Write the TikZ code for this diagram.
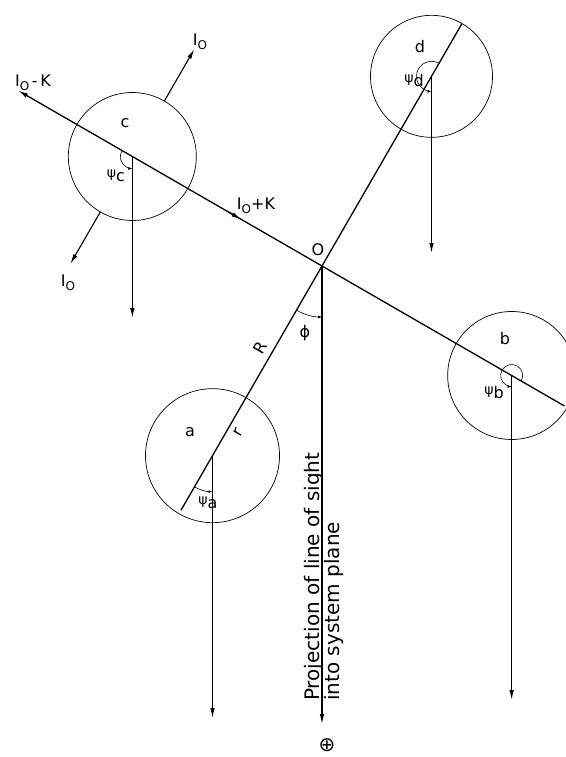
\documentclass[tikz,border=0pt]{standalone}
\usepackage{fontspec}
\setsansfont{DejaVu Sans}
\usetikzlibrary{arrows.meta,calc}
\newcommand{\sub}[1]{\raisebox{-0.4ex}{\fontsize{12}{12}\selectfont #1}}
\newcommand{\psilab}[1]{{\fontsize{14}{14}\selectfont ψ}\raisebox{-0.5ex}{#1}}
\begin{document}
\begin{tikzpicture}[x=1pt,y=1pt,
  mainline/.style={line width=1.3pt},
  circ/.style={line width=0.7pt},
  vec/.style={line width=1.1pt,-{Latex[length=10pt,width=4.5pt]}},
  anglearc/.style={line width=0.6pt,-{Latex[length=4pt,width=3pt]}},
  lbl/.style={font=\sffamily\fontsize{16}{18}\selectfont, inner sep=0pt},
  big/.style={font=\sffamily\fontsize{20}{22}\selectfont, inner sep=0pt}
]
\useasboundingbox (0,0) rectangle (565,-757);
\coordinate (O) at (322,-266);
\coordinate (c) at ($(O)+(150:219)$);
\coordinate (d) at ($(O)+(60:219)$);
\coordinate (b) at ($(O)+(-30:219)$);
\coordinate (a) at ($(O)+(240:219)$);
% circles
\draw[circ] (c) circle (64);
\draw[circ] (d) circle (61);
\draw[circ] (b) circle (64);
\draw[circ] (a) circle (67);
% main lines
\coordinate (lineE) at ($(O)+(-30:280)$);
\coordinate (lineW) at ($(O)+(150:351)$);
\draw[mainline,-{Latex[length=10pt,width=4.5pt]}] (lineE) -- (lineW);
\coordinate (kA) at ($(O)+(150:108)$);
\coordinate (kB) at ($(O)+(150:93)$);
\draw[mainline,-{Latex[length=10pt,width=4.5pt]}] (kA) -- (kB);
\coordinate (Rlo) at ($(O)+(240:282)$);
\coordinate (Rhi) at ($(O)+(60:280)$);
\draw[mainline] (Rlo) -- (Rhi);
% I0 arrows
\coordinate (i1s) at ($(c)+(60:64)$);
\coordinate (i1e) at ($(c)+(60:124)$);
\coordinate (i2s) at ($(c)+(240:64)$);
\coordinate (i2e) at ($(c)+(240:124)$);
\draw[vec] (i1s) -- (i1e);
\draw[vec] (i2s) -- (i2e);
% vertical arrows
\coordinate (cT) at (133,-318);
\coordinate (dT) at (433,-253);
\coordinate (OT) at (322,-724);
\coordinate (aT) at (213,-718);
\coordinate (bT) at (512,-700);
\draw[vec] (c) -- (c |- cT);
\draw[vec] (d) -- (d |- dT);
\draw[vec] (O) -- (O |- OT);
\draw[vec] (a) -- (a |- aT);
\draw[vec] (b) -- (b |- bT);
% angle arcs
\draw[anglearc] ($(c)+(150:12)$) arc[start angle=150,end angle=270,radius=12];
\draw[anglearc] ($(d)+(60:15)$) arc[start angle=60,end angle=270,radius=15];
\draw[anglearc] ($(b)+(-30:11)$) arc[start angle=-30,end angle=270,radius=11];
\draw[anglearc] ($(a)+(240:36)$) arc[start angle=240,end angle=270,radius=36];
\draw[anglearc] ($(O)+(240:51)$) arc[start angle=240,end angle=270,radius=51];
% labels
\node[lbl] (lO) at (318,-250) {O};
\node[lbl] (lIK) at (33,-83) {I\sub{O}\,-\,K};
\node[lbl] (lIpK) at (256,-206) {I\sub{O}+K};
\node[lbl] (lI1) at (200,-42) {I\sub{O}};
\node[lbl] (lI2) at (68,-283) {I\sub{O}};
\node[lbl] (lc) at (125,-123) {c};
\node[lbl] (ld) at (420,-47) {d};
\node[lbl] (lb) at (505,-339) {b};
\node[lbl] (la) at (190,-432) {a};
\node[lbl] (lpc) at (116,-176) {\psilab{c}};
\node[lbl] (lpd) at (414,-81) {\psilab{d}};
\node[lbl] (lpb) at (494,-393) {\psilab{b}};
\node[lbl] (lpa) at (208,-503) {\psilab{a}};
\node[lbl,rotate=60] (lR) at (260,-348) {R};
\node[lbl,rotate=60] (lr) at (238,-432) {r};
\node[lbl] (lphi) at (305,-333) {ϕ};
\node[big,rotate=90,anchor=base west] (t1) at (319,-701) {Projection of line of sight};
\node[big,rotate=90,anchor=base west] (t2) at (339,-701) {into system plane};
\node[font=\sffamily\fontsize{20}{20}\selectfont,inner sep=0pt] (plus) at (327,-745) {⊕};
\end{tikzpicture}
\end{document}
